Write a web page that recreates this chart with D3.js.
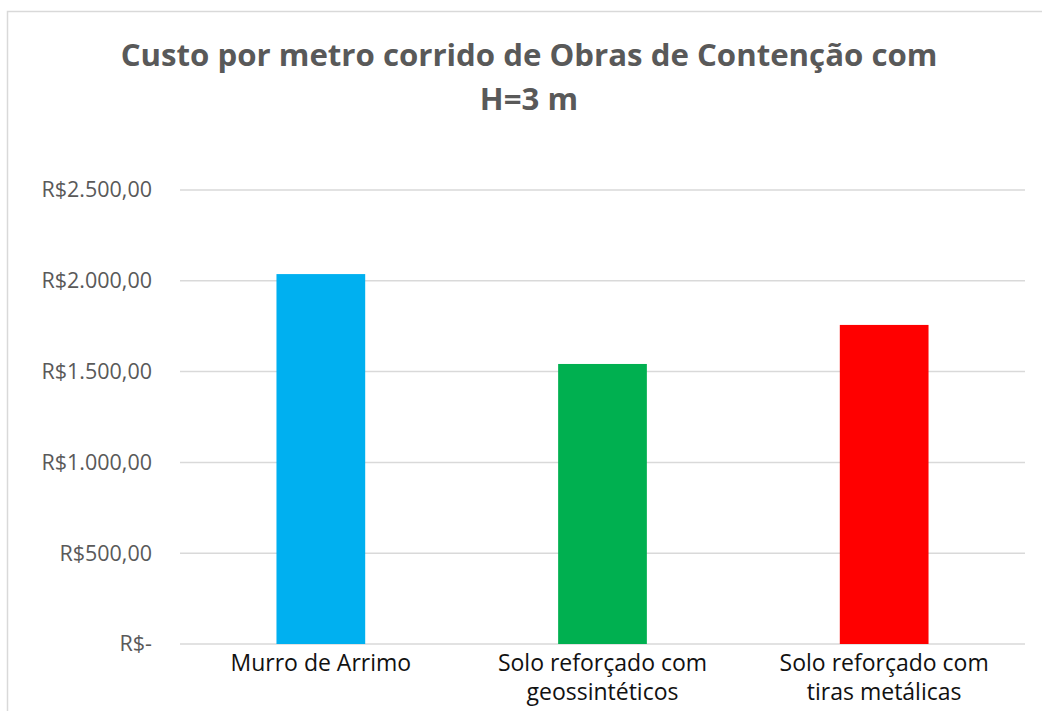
<!DOCTYPE html>
<html>
<head>
<meta charset="utf-8">
<script src="https://cdn.jsdelivr.net/npm/d3@7"></script>
<style>
  body { margin: 0; background: #fff; }
  svg { display: block; font-family: "Open Sans", sans-serif; }
</style>
</head>
<body>
<div id="chart"></div>
<script>
// --- data ---
const titleLines = ["Custo por metro corrido de Obras de Contenção com", "H=3 m"];
const categories = [
  ["Murro de Arrimo"],
  ["Solo reforçado com", "geossintéticos"],
  ["Solo reforçado com", "tiras metálicas"]
];
const values = [2037, 1542, 1757];
const colors = ["#00B0F0", "#00B050", "#FF0000"];
const ticks = [0, 500, 1000, 1500, 2000, 2500];
const tickLabels = ["R$-", "R$500,00", "R$1.000,00", "R$1.500,00", "R$2.000,00", "R$2.500,00"];

// plot sizes
const width = 1042, height = 711;
const margin = { top: 190, bottom: 67, left: 180, right: 17 };

const svg = d3.select("#chart").append("svg")
  .attr("width", width)
  .attr("height", height);

// chart frame (runs off the right and bottom of the picture)
svg.append("rect")
  .attr("x", 7.5).attr("y", 11.5)
  .attr("width", 1050).attr("height", 720)
  .attr("fill", "none")
  .attr("stroke", "#d9d9d9")
  .attr("stroke-width", 1.5);

// --- scales ---
const x = d3.scaleBand()
  .domain(d3.range(categories.length))
  .range([margin.left, width - margin.right])
  .paddingInner(0.685)
  .paddingOuter(0.3425);

const y = d3.scaleLinear()
  .domain([0, 2500])
  .range([height - margin.bottom, margin.top]);

// gridlines
svg.append("g")
  .selectAll("line")
  .data(ticks)
  .join("line")
  .attr("x1", margin.left).attr("x2", width - margin.right)
  .attr("y1", d => y(d)).attr("y2", d => y(d))
  .attr("stroke", "#d9d9d9")
  .attr("stroke-width", 1.5);

// y axis labels
const yAxis = d3.axisLeft(y)
  .tickValues(ticks)
  .tickFormat((d, i) => tickLabels[i])
  .tickSize(0)
  .tickPadding(28);

svg.append("g")
  .attr("transform", `translate(${margin.left},0)`)
  .call(yAxis)
  .call(g => g.select(".domain").remove())
  .call(g => g.selectAll("text")
    .attr("fill", "#595959")
    .style("font-size", "21.5px")
    .style("font-family", "'Open Sans', sans-serif"));

// bars
svg.append("g")
  .selectAll("rect")
  .data(values)
  .join("rect")
  .attr("x", (d, i) => x(i))
  .attr("width", x.bandwidth())
  .attr("y", d => y(d))
  .attr("height", d => y(0) - y(d))
  .attr("fill", (d, i) => colors[i]);

// category labels
const cats = svg.append("g")
  .selectAll("text")
  .data(categories)
  .join("text")
  .attr("x", (d, i) => x(i) + x.bandwidth() / 2)
  .attr("y", y(0) + 27)
  .attr("text-anchor", "middle")
  .attr("fill", "#111")
  .style("font-size", "23px");

cats.selectAll("tspan")
  .data(d => d)
  .join("tspan")
  .attr("x", function() { return this.parentNode.getAttribute("x"); })
  .attr("dy", (d, i) => i === 0 ? 0 : 29)
  .text(d => d);

// title
svg.append("g")
  .selectAll("text")
  .data(titleLines)
  .join("text")
  .attr("x", 529)
  .attr("y", (d, i) => 66 + i * 44)
  .attr("text-anchor", "middle")
  .attr("fill", "#595959")
  .style("font-size", "31.2px")
  .style("font-weight", "bold")
  .text(d => d);
</script>
</body>
</html>
